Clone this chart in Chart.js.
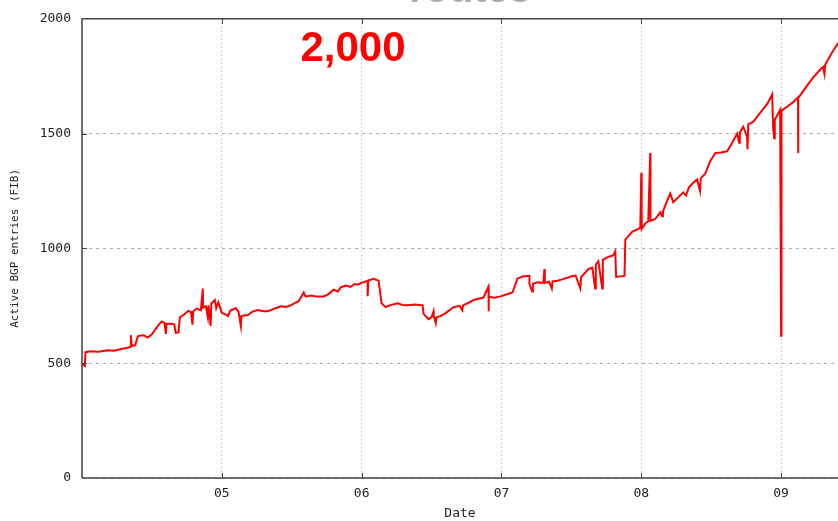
<!DOCTYPE html>
<html>
<head>
<meta charset="utf-8">
<script src="https://cdn.jsdelivr.net/npm/chart.js@4/dist/chart.umd.min.js"></script>
<style>
  body { margin: 0; background: #fff; }
</style>
</head>
<body>
<canvas id="fib-chart" width="838" height="521"></canvas>
<script>
// decimal year of each sample
var dates = [
  2004.000, 2004.020, 2004.025, 2004.060, 2004.120, 2004.180, 2004.230, 2004.280, 2004.320, 2004.350,
  2004.350, 2004.355, 2004.380, 2004.400, 2004.440, 2004.470, 2004.500, 2004.540, 2004.570, 2004.590,
  2004.600, 2004.605, 2004.640, 2004.660, 2004.670, 2004.690, 2004.700, 2004.730, 2004.760, 2004.780,
  2004.790, 2004.795, 2004.820, 2004.850, 2004.864, 2004.866, 2004.886, 2004.900, 2004.905, 2004.920,
  2004.925, 2004.950, 2004.960, 2004.975, 2005.000, 2005.030, 2005.045, 2005.060, 2005.100, 2005.120,
  2005.136, 2005.140, 2005.186, 2005.220, 2005.257, 2005.300, 2005.329, 2005.380, 2005.421, 2005.460,
  2005.493, 2005.520, 2005.550, 2005.586, 2005.600, 2005.636, 2005.680, 2005.729, 2005.760, 2005.800,
  2005.830, 2005.850, 2005.886, 2005.920, 2005.950, 2005.971, 2006.000, 2006.043, 2006.043, 2006.048,
  2006.086, 2006.110, 2006.121, 2006.143, 2006.171, 2006.200, 2006.257, 2006.300, 2006.329, 2006.380,
  2006.436, 2006.443, 2006.479, 2006.500, 2006.514, 2006.516, 2006.530, 2006.534, 2006.564, 2006.600,
  2006.657, 2006.700, 2006.720, 2006.725, 2006.757, 2006.800, 2006.871, 2006.907, 2006.908, 2006.910,
  2006.950, 2006.993, 2007.040, 2007.079, 2007.114, 2007.150, 2007.186, 2007.200, 2007.200, 2007.220,
  2007.225, 2007.260, 2007.300, 2007.307, 2007.310, 2007.340, 2007.360, 2007.365, 2007.400, 2007.440,
  2007.471, 2007.507, 2007.530, 2007.564, 2007.570, 2007.600, 2007.621, 2007.650, 2007.670, 2007.675,
  2007.693, 2007.721, 2007.725, 2007.760, 2007.779, 2007.800, 2007.814, 2007.820, 2007.880, 2007.886,
  2007.936, 2007.970, 2007.993, 2008.000, 2008.003, 2008.030, 2008.050, 2008.064, 2008.066, 2008.100,
  2008.136, 2008.150, 2008.155, 2008.180, 2008.207, 2008.229, 2008.260, 2008.300, 2008.320, 2008.340,
  2008.371, 2008.400, 2008.420, 2008.425, 2008.457, 2008.493, 2008.529, 2008.570, 2008.614, 2008.650,
  2008.686, 2008.700, 2008.705, 2008.729, 2008.757, 2008.760, 2008.765, 2008.800, 2008.850, 2008.900,
  2008.936, 2008.943, 2008.950, 2008.955, 2008.993, 2009.000, 2009.003, 2009.050, 2009.086, 2009.121,
  2009.121, 2009.124, 2009.186, 2009.230, 2009.279, 2009.300, 2009.310, 2009.315, 2009.371, 2009.410
];

// active BGP entries (FIB)
var routes = [
  496, 488, 548, 552, 550, 556, 554, 562, 566, 572,
  622, 576, 578, 618, 622, 612, 626, 660, 682, 676,
  628, 672, 672, 668, 632, 634, 700, 712, 728, 722,
  668, 725, 738, 730, 825, 742, 748, 700, 752, 662,
  760, 775, 740, 765, 720, 712, 705, 728, 740, 722,
  662, 705, 710, 725, 732, 726, 726, 738, 748, 745,
  752, 762, 770, 808, 790, 795, 790, 791, 800, 820,
  812, 830, 838, 832, 845, 842, 850, 859, 792, 860,
  868, 862, 860, 761, 744, 752, 761, 752, 752, 756,
  752, 715, 692, 700, 726, 705, 675, 700, 705, 718,
  744, 750, 730, 752, 761, 775, 786, 833, 726, 790,
  785, 791, 800, 808, 868, 878, 880, 880, 846, 812,
  846, 852, 850, 910, 850, 855, 825, 856, 859, 866,
  872, 880, 882, 825, 876, 895, 910, 916, 825, 930,
  944, 825, 950, 962, 966, 970, 987, 876, 880, 1038,
  1073, 1082, 1090, 1329, 1085, 1110, 1118, 1415, 1120, 1128,
  1158, 1140, 1160, 1200, 1239, 1201, 1220, 1244, 1230, 1265,
  1286, 1300, 1250, 1305, 1325, 1380, 1415, 1418, 1423, 1460,
  1500, 1460, 1505, 1530, 1487, 1432, 1540, 1551, 1590, 1628,
  1671, 1530, 1480, 1560, 1603, 620, 1600, 1620, 1637, 1658,
  1415, 1655, 1709, 1745, 1778, 1790, 1760, 1800, 1860, 1895
];

var yearTicks = [2005, 2006, 2007, 2008, 2009];
var valueTicks = [500, 1000, 1500];

var points = dates.map(function (d, i) { return { x: d, y: routes[i] }; });

var monoFont = 'DejaVu Sans Mono';

// gnuplot style frame, inward ticks and the overlay texts
var framePlugin = {
  id: 'frame',
  afterDraw: function (chart) {
    var ctx = chart.ctx;
    var a = chart.chartArea;
    var xs = chart.scales.x, ys = chart.scales.y;
    ctx.save();
    ctx.strokeStyle = '#444';
    ctx.lineWidth = 1.5;
    ctx.beginPath();
    ctx.moveTo(a.left, a.bottom);
    ctx.lineTo(a.left, a.top);
    ctx.lineTo(a.right + 2, a.top);
    ctx.moveTo(a.left, a.bottom);
    ctx.lineTo(a.right + 2, a.bottom);
    ctx.stroke();
    ctx.lineWidth = 1;
    ctx.beginPath();
    yearTicks.forEach(function (t) {
      var px = Math.round(xs.getPixelForValue(t)) + 0.5;
      ctx.moveTo(px, a.bottom); ctx.lineTo(px, a.bottom - 5);
      ctx.moveTo(px, a.top); ctx.lineTo(px, a.top + 5);
    });
    valueTicks.forEach(function (t) {
      var py = Math.round(ys.getPixelForValue(t)) + 0.5;
      ctx.moveTo(a.left, py); ctx.lineTo(a.left + 5, py);
    });
    ctx.stroke();

    ctx.fillStyle = '#ff0000';
    ctx.font = 'bold 42px "Liberation Sans", Arial, sans-serif';
    ctx.textAlign = 'center';
    ctx.textBaseline = 'alphabetic';
    ctx.fillText('2,000', 353, 61);

    ctx.fillStyle = '#aaa';
    ctx.font = 'bold 40px "Liberation Sans", Arial, sans-serif';
    ctx.fillText('routes', 470, 2);
    ctx.restore();
  }
};

var config = {
  type: 'line',
  data: {
    datasets: [
      {
        label: 'FIB',
        data: points,
        borderColor: '#ff0000',
        borderWidth: 2,
        pointRadius: 0,
        tension: 0,
        fill: false
      }
    ]
  },
  options: {
    responsive: false,
    animation: false,
    devicePixelRatio: 1,
    layout: { padding: { top: 11, right: 0, bottom: 0, left: 0 } },
    plugins: {
      legend: { display: false },
      tooltip: { enabled: false }
    },
    scales: {
      x: {
        type: 'linear',
        min: 2004,
        max: 2009.407,
        afterFit: function (s) { s.height = 43; },
        ticks: {
          stepSize: 1,
          includeBounds: false,
          autoSkip: false,
          maxRotation: 0,
          padding: 8,
          color: '#222',
          font: { family: monoFont, size: 13 },
          callback: function (v) {
            return yearTicks.indexOf(v) >= 0 ? String(v).slice(2) : '';
          }
        },
        grid: { color: '#aaa', lineWidth: 1, drawTicks: false },
        border: { display: false, dash: [1, 3] },
        title: {
          display: true,
          text: 'Date',
          color: '#222',
          font: { family: monoFont, size: 13 },
          padding: 0
        }
      },
      y: {
        min: 0,
        max: 2000,
        afterFit: function (s) { s.width = 82; },
        ticks: {
          stepSize: 500,
          padding: 11,
          color: '#222',
          font: { family: monoFont, size: 13 },
          callback: function (v) { return String(v); }
        },
        grid: { color: '#aaa', lineWidth: 1, drawTicks: false },
        border: { display: false, dash: [3, 4] },
        title: {
          display: true,
          text: 'Active BGP entries (FIB)',
          color: '#222',
          font: { family: monoFont, size: 11 },
          padding: { top: 9, bottom: 0 }
        }
      }
    }
  },
  plugins: [framePlugin]
};

var ctx = document.getElementById('fib-chart').getContext('2d');
new Chart(ctx, config);
</script>
</body>
</html>
